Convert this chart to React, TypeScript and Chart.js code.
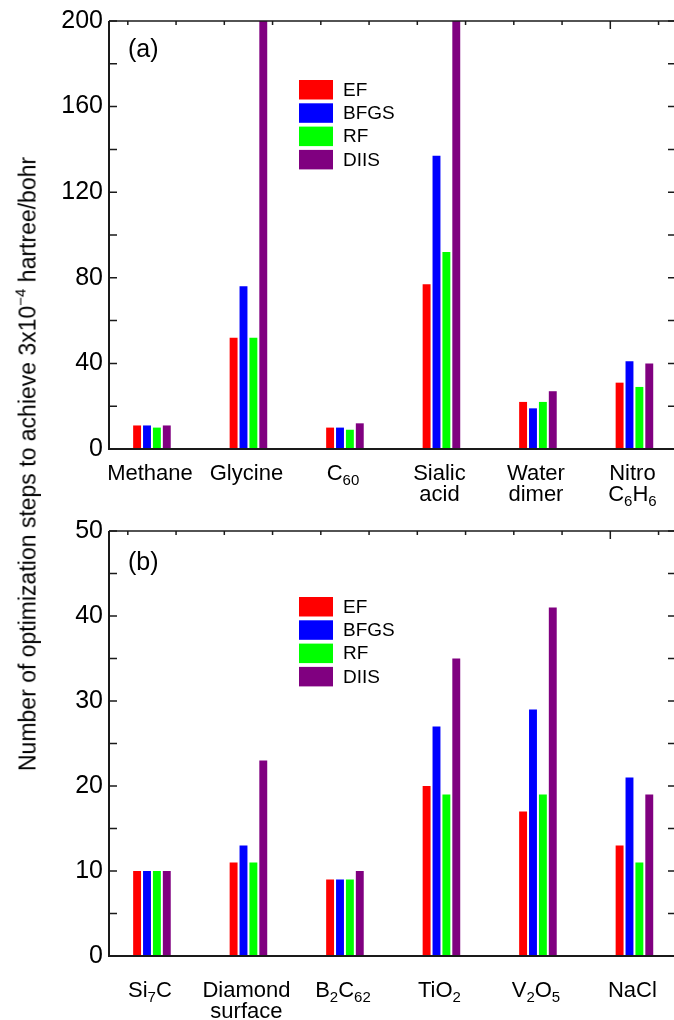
import React, { useEffect, useRef } from 'react';
import { Chart, registerables } from 'chart.js';

Chart.register(...registerables);

// ---------- data ----------
const seriesNames = ['EF', 'BFGS', 'RF', 'DIIS'];
const seriesColors = ['#ff0000', '#0000ff', '#00ff00', '#800080'];

const categoriesA = ['Methane', 'Glycine', 'C_{60}', 'Sialic|acid', 'Water|dimer', 'Nitro|C_{6}H_{6}'];
const efA = [11, 52, 10, 77, 22, 31];
const bfgsA = [11, 76, 10, 137, 19, 41];
const rfA = [10, 52, 9, 92, 22, 29];
const diisA = [11, 200, 12, 200, 27, 40];
const yTicksA = [0, 40, 80, 120, 160, 200];

const categoriesB = ['Si_{7}C', 'Diamond|surface', 'B_{2}C_{62}', 'TiO_{2}', 'V_{2}O_{5}', 'NaCl'];
const efB = [10, 11, 9, 20, 17, 13];
const bfgsB = [10, 13, 9, 27, 29, 21];
const rfB = [10, 11, 9, 19, 19, 11];
const diisB = [10, 23, 10, 35, 41, 19];
const yTicksB = [0, 10, 20, 30, 40, 50];

const FONT = '"Liberation Sans", Arial, Helvetica, sans-serif';

type Seg = { text: string; sub: boolean };

function parseLine(s: string): Seg[] {
  const out: Seg[] = [];
  const re = /_\{([^}]*)\}/g;
  let last = 0;
  let m: RegExpExecArray | null;
  while ((m = re.exec(s))) {
    if (m.index > last) out.push({ text: s.slice(last, m.index), sub: false });
    out.push({ text: m[1], sub: true });
    last = m.index + m[0].length;
  }
  if (last < s.length) out.push({ text: s.slice(last), sub: false });
  return out;
}

type PanelCfg = {
  categories: string[];
  series: number[][];
  yTicks: number[];
  minorStep: number;
  panel: string;
  panelY: number;
  legendY: number;
  labelBase: number;
  padTop: number;
  padBottom: number;
};

function makeDecor(cfg: PanelCfg) {
  return {
    id: 'decor',
    afterDraw(chart: any) {
      const ctx = chart.ctx as CanvasRenderingContext2D;
      const { left, right, top, bottom } = chart.chartArea;
      const xs = chart.scales.x;
      const ys = chart.scales.y;
      ctx.save();
      ctx.strokeStyle = '#1a1a1a';
      ctx.lineCap = 'butt';

      // frame: left, bottom, top
      ctx.lineWidth = 2;
      ctx.beginPath();
      ctx.moveTo(left, top);
      ctx.lineTo(left, bottom);
      ctx.lineTo(right, bottom);
      ctx.stroke();
      ctx.lineWidth = 1.5;
      ctx.beginPath();
      ctx.moveTo(left, top);
      ctx.lineTo(right, top);
      ctx.stroke();

      // y ticks (inward), left and right
      ctx.lineWidth = 1.5;
      const yMax = cfg.yTicks[cfg.yTicks.length - 1];
      for (let v = cfg.yTicks[0]; v <= yMax + 1e-9; v += cfg.minorStep) {
        const py = ys.getPixelForValue(v);
        ctx.beginPath();
        ctx.moveTo(left, py);
        ctx.lineTo(left + 8, py);
        ctx.moveTo(right, py);
        ctx.lineTo(right - 6, py);
        ctx.stroke();
      }

      // top ticks (inward)
      for (let t = 0.75; t < 6.4; t += 0.5) {
        const px = xs.getPixelForValue(t);
        const len = Math.abs(t - 5.75) < 1e-6 ? 8 : 4;
        ctx.beginPath();
        ctx.moveTo(px, top);
        ctx.lineTo(px, top + len);
        ctx.stroke();
      }

      // category labels
      ctx.fillStyle = '#000';
      ctx.textBaseline = 'alphabetic';
      ctx.textAlign = 'left';
      cfg.categories.forEach((cat, i) => {
        const cx = xs.getPixelForValue(i + 1) - 2;
        cat.split('|').forEach((line, li) => {
          const segs = parseLine(line);
          let total = 0;
          const widths = segs.map((s) => {
            ctx.font = `${s.sub ? 15 : 22}px ${FONT}`;
            const w = ctx.measureText(s.text).width;
            total += w;
            return w;
          });
          let x = cx - total / 2;
          const base = bottom + cfg.labelBase + li * 21;
          segs.forEach((s, k) => {
            ctx.font = `${s.sub ? 15 : 22}px ${FONT}`;
            ctx.fillText(s.text, x, base + (s.sub ? 4.5 : 0));
            x += widths[k];
          });
        });
      });

      // panel label
      ctx.font = `25px ${FONT}`;
      ctx.textBaseline = 'middle';
      ctx.fillText(cfg.panel, left + 19, top + cfg.panelY);

      // legend
      ctx.font = `19px ${FONT}`;
      seriesNames.forEach((name, k) => {
        const by = top + cfg.legendY + k * 23.3;
        ctx.fillStyle = seriesColors[k];
        ctx.fillRect(left + 190, by, 34, 19.5);
        ctx.fillStyle = '#000';
        ctx.fillText(name, left + 234, by + 10.5);
      });
      ctx.restore();
    },
  };
}

function Panel({ cfg, top }: { cfg: PanelCfg; top: number }) {
  const ref = useRef<HTMLCanvasElement | null>(null);
  useEffect(() => {
    if (!ref.current) return;
    const positions = cfg.categories.map((_, i) => i + 1);
    const chart = new Chart(ref.current, {
      type: 'bar',
      data: {
        labels: positions,
        datasets: seriesNames.map((name, k) => ({
          label: name,
          data: cfg.series[k],
          backgroundColor: seriesColors[k],
          borderWidth: 0,
          categoryPercentage: 0.41,
          barPercentage: 0.8,
        })),
      },
      options: {
        responsive: false,
        animation: false,
        events: [],
        layout: { padding: { top: cfg.padTop, bottom: cfg.padBottom, left: 0, right: 0 } },
        plugins: { legend: { display: false }, tooltip: { enabled: false } },
        scales: {
          x: {
            type: 'linear',
            min: 0.555,
            max: 6.41,
            offset: false,
            bounds: 'data',
            display: false,
            grid: { offset: false },
            afterBuildTicks: (s: any) => {
              s.ticks = positions.map((v) => ({ value: v }));
            },
          },
          y: {
            type: 'linear',
            position: 'left',
            min: cfg.yTicks[0],
            max: cfg.yTicks[cfg.yTicks.length - 1],
            afterBuildTicks: (s: any) => {
              s.ticks = cfg.yTicks.map((v) => ({ value: v }));
            },
            afterFit: (s: any) => {
              s.width = 109;
            },
            grid: { display: false, drawTicks: false },
            border: { display: false },
            ticks: { padding: 6, color: '#000', font: { family: FONT, size: 25 } },
          },
        },
      } as any,
      plugins: [makeDecor(cfg)],
    });
    return () => chart.destroy();
  }, [cfg]);
  return (
    <canvas
      ref={ref}
      width={674}
      height={510}
      style={{ position: 'absolute', left: 0, top, width: 674, height: 510, display: 'block' }}
    />
  );
}

const cfgA: PanelCfg = {
  categories: categoriesA,
  series: [efA, bfgsA, rfA, diisA],
  yTicks: yTicksA,
  minorStep: 20,
  panel: '(a)',
  panelY: 29,
  legendY: 59,
  labelBase: 31,
  padTop: 21,
  padBottom: 61,
};

const cfgB: PanelCfg = {
  categories: categoriesB,
  series: [efB, bfgsB, rfB, diisB],
  yTicks: yTicksB,
  minorStep: 5,
  panel: '(b)',
  panelY: 32,
  legendY: 66,
  labelBase: 41,
  padTop: 18,
  padBottom: 64,
};

export default function App() {
  return (
    <div
      style={{
        position: 'absolute',
        left: 0,
        top: 0,
        width: 674,
        height: 1020,
        overflow: 'hidden',
        background: '#fff',
      }}
    >
      <Panel cfg={cfgA} top={0} />
      <Panel cfg={cfgB} top={510} />
      <div
        style={{
          position: 'absolute',
          left: 28,
          top: 464,
          transform: 'translate(-50%, -50%) rotate(-90deg)',
          whiteSpace: 'nowrap',
          fontFamily: FONT,
          fontSize: 23,
          color: '#000',
          lineHeight: 1,
        }}
      >
        Number of optimization steps to achieve 3x10
        <span style={{ fontSize: 15, position: 'relative', top: -10 }}>−4</span> hartree/bohr
      </div>
    </div>
  );
}
